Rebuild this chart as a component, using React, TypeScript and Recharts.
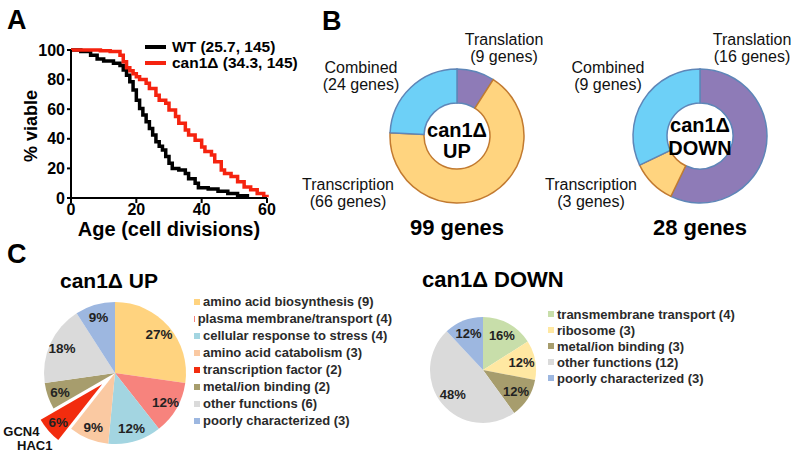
import React from 'react'
import { LineChart, Line, XAxis, YAxis, Legend, PieChart, Pie, Cell } from 'recharts'

const FONT = '"Liberation Sans", Arial, Helvetica, sans-serif'
const RADIAN = Math.PI / 180

// A: replicative lifespan (age in cell divisions, % viable)
const wtAge = [0, 3, 6, 8, 10, 13, 15, 16, 17, 18, 19, 20, 21, 22, 23, 24, 25, 26, 27, 28, 29, 30, 31, 33, 35, 36, 38, 39, 42, 45, 48, 51, 54]
const wtViable = [100, 99, 96.5, 94, 92.5, 91, 89.5, 86.5, 83, 78.5, 73, 66, 60.5, 56, 51.5, 47, 42.5, 38, 35, 32.5, 28, 23.5, 20, 19, 16.5, 13, 10, 7, 6, 4.5, 3, 1.5, 0]
const canAge = [0, 9, 12, 15, 16, 17, 18, 19, 20, 21, 23, 24, 26, 27, 29, 30, 32, 33, 35, 36, 38, 40, 41, 43, 44, 46, 47, 49, 51, 53, 55, 57, 59, 60]
const canViable = [100, 99.5, 99, 96.5, 92, 88, 86, 84, 82, 80, 77.5, 74, 69.5, 66, 64, 59.5, 55, 50.5, 46, 42.5, 39, 34.5, 31.5, 29, 24.5, 19, 16.5, 14.5, 11, 7.5, 5.5, 3, 1, 0.5]
const survivalNames = ['WT (25.7, 145)', 'can1Δ (34.3, 145)']
const survivalColors = ['#000000', '#F5230F']
const ageTicks = [0, 20, 40, 60]
const viableTicks = [0, 20, 40, 60, 80, 100]

// B: regulatory groups
const groupNames = ['Translation', 'Transcription', 'Combined']
const upGroupGenes = [9, 66, 24]
const downGroupGenes = [16, 3, 9]
const groupFill = ['#8E7BB7', '#FFD47F', '#6DD0F7']
const groupStroke = ['#5E86B8', '#C27A30', '#5E86B8']

// C: functional categories
const upCategories = ['amino acid biosynthesis', 'plasma membrane/transport', 'cellular response to stress', 'amino acid catabolism', 'transcription factor', 'metal/ion binding', 'other functions', 'poorly characterized']
const upCounts = [9, 4, 4, 3, 2, 2, 6, 3]
const upColors = ['#FFD37F', '#F7837D', '#A3D5E1', '#FAC9A2', '#F22C0E', '#A79D6D', '#DADADA', '#9DB7E0']
const downCategories = ['transmembrane transport', 'ribosome', 'metal/ion binding', 'other functions', 'poorly characterized']
const downCounts = [4, 3, 3, 12, 3]
const downColors = ['#C8DEAA', '#FFE8A2', '#A79D6D', '#DADADA', '#9DB7E0']
const explodedCategory = 'transcription factor'
const explodedGenes = ['GCN4', 'HAC1']

const wtData = wtAge.map((age, i) => ({ age, viable: wtViable[i] }))
const canData = canAge.map((age, i) => ({ age, viable: canViable[i] }))
const upGroups = groupNames.map((name, i) => ({ name, genes: upGroupGenes[i] }))
const downGroups = groupNames.map((name, i) => ({ name, genes: downGroupGenes[i] }))
const upData = upCategories.map((name, i) => ({ name, genes: upCounts[i] }))
const downData = downCategories.map((name, i) => ({ name, genes: downCounts[i] }))

const Txt = ({ x, y, size, weight = 700, anchor = 'start', color = '#000', children }: any) => (
  <div
    style={{
      position: 'absolute',
      left: x,
      top: y - size / 2,
      fontSize: size,
      fontWeight: weight,
      lineHeight: 1,
      whiteSpace: 'nowrap',
      color,
      transform: anchor === 'middle' ? 'translateX(-50%)' : undefined,
    }}
  >
    {children}
  </div>
)

const SurvivalLegend = () => (
  <div style={{ fontFamily: FONT, fontWeight: 700, fontSize: 15.5 }}>
    {survivalNames.map((name, i) => (
      <div key={name} style={{ display: 'flex', alignItems: 'center', height: 16, lineHeight: '16px', whiteSpace: 'nowrap' }}>
        <span style={{ width: 21, height: 4, background: survivalColors[i], marginRight: 6 }} />
        {name}
      </div>
    ))}
  </div>
)

function SurvivalChart() {
  const tick = { fill: '#000', fontSize: 16, fontWeight: 700, fontFamily: FONT }
  const axis = { stroke: '#000', strokeWidth: 2 }
  return (
    <div style={{ position: 'absolute', left: 0, top: 0 }}>
      <LineChart width={300} height={240} margin={{ top: 50, right: 33, bottom: 2, left: 0 }}>
        <XAxis
          type="number"
          dataKey="age"
          domain={[0, 60]}
          ticks={ageTicks}
          height={40}
          tick={tick}
          tickSize={5}
          tickMargin={1}
          axisLine={axis}
          tickLine={axis}
          label={{ value: 'Age (cell divisions)', position: 'insideBottom', offset: 2, fill: '#000', fontSize: 20, fontWeight: 700, fontFamily: FONT }}
        />
        <YAxis
          type="number"
          domain={[0, 100]}
          ticks={viableTicks}
          width={71}
          tick={tick}
          tickSize={4}
          tickMargin={2}
          axisLine={axis}
          tickLine={axis}
          interval={0}
        />
        <Legend align="center" verticalAlign="middle" layout="vertical" content={<SurvivalLegend />} wrapperStyle={{ left: 145, top: 39, width: 170 }} />
        <Line data={wtData} dataKey="viable" name={survivalNames[0]} type="stepAfter" stroke={survivalColors[0]} strokeWidth={3.5} dot={false} isAnimationActive={false} />
        <Line data={canData} dataKey="viable" name={survivalNames[1]} type="stepAfter" stroke={survivalColors[1]} strokeWidth={3.5} dot={false} isAnimationActive={false} />
      </LineChart>
      <div
        style={{
          position: 'absolute',
          left: 31,
          top: 126,
          fontSize: 18,
          fontWeight: 700,
          whiteSpace: 'nowrap',
          transform: 'translate(-50%, -50%) rotate(-90deg)',
        }}
      >
        % viable
      </div>
    </div>
  )
}

function GroupDonut({ data, cx, lines, lineY, total, labelPos }: any) {
  return (
    <>
      <div style={{ position: 'absolute', left: cx - 120, top: 36 }}>
        <PieChart width={240} height={200} margin={{ top: 0, right: 0, bottom: 0, left: 0 }}>
          <Pie
            data={data}
            dataKey="genes"
            nameKey="name"
            cx={120}
            cy={100}
            innerRadius={33}
            outerRadius={67}
            startAngle={90}
            endAngle={-270}
            isAnimationActive={false}
          >
            {data.map((d: any, i: number) => (
              <Cell key={d.name} fill={groupFill[i]} stroke={groupStroke[i]} strokeWidth={1.5} />
            ))}
          </Pie>
        </PieChart>
      </div>
      {lines.map((l: string, i: number) => (
        <Txt key={l} x={cx} y={lineY[i]} size={20} anchor="middle">{l}</Txt>
      ))}
      {data.map((d: any, i: number) => (
        <div
          key={d.name}
          style={{
            position: 'absolute',
            left: labelPos[i][0],
            top: labelPos[i][1],
            transform: 'translateX(-50%)',
            fontSize: 16,
            lineHeight: '17px',
            textAlign: 'center',
            whiteSpace: 'nowrap',
            color: '#111',
          }}
        >
          {d.name}
          <br />({d.genes} genes)
        </div>
      ))}
      <Txt x={cx} y={228} size={22} anchor="middle">{total} genes</Txt>
    </>
  )
}

const CategoryLegend = ({ names, counts, colors, rowHeight }: any) => (
  <div style={{ fontFamily: FONT, fontWeight: 700, fontSize: 13, color: '#2a2a2a' }}>
    {names.map((n: string, i: number) => (
      <div key={n} style={{ display: 'flex', alignItems: 'center', height: rowHeight, whiteSpace: 'nowrap' }}>
        <span style={{ width: 6, height: 6, background: colors[i], marginLeft: 2, marginRight: 3 }} />
        {n} ({counts[i]})
      </div>
    ))}
  </div>
)

const percentLabel = (factor: number, fontSize: number, show: (i: number) => boolean, extra?: string[]) => (p: any) => {
  if (!show(p.index)) return null
  const r = p.outerRadius * factor
  const x = p.cx + r * Math.cos(-p.midAngle * RADIAN)
  const y = p.cy + r * Math.sin(-p.midAngle * RADIAN)
  const ro = p.outerRadius + 8
  const ox = p.cx + ro * Math.cos(-p.midAngle * RADIAN)
  const oy = p.cy + ro * Math.sin(-p.midAngle * RADIAN)
  return (
    <g>
      <text x={x} y={y} textAnchor="middle" dominantBaseline="central" fontSize={fontSize} fontWeight={700} fill="#222" fontFamily={FONT}>
        {Math.round(p.percent * 100)}%
      </text>
      {extra &&
        extra.map((g, i) => (
          <text key={g} x={ox - 3 + i * 13} y={oy - 4 + i * 14} textAnchor="end" dominantBaseline="central" fontSize={13} fontWeight={700} fill="#111" fontFamily={FONT}>
            {g}
          </text>
        ))}
    </g>
  )
}

function UpCategoryPie() {
  const cx = 115
  const cy = 103
  const exIdx = upCategories.indexOf(explodedCategory)
  const total = upCounts.reduce((a, b) => a + b, 0)
  const before = upCounts.slice(0, exIdx).reduce((a, b) => a + b, 0)
  const mid = (90 - ((before + upCounts[exIdx] / 2) / total) * 360) * RADIAN
  const shift = 17
  return (
    <div style={{ position: 'absolute', left: 0, top: 270 }}>
      <PieChart width={400} height={187} margin={{ top: 0, right: 0, bottom: 0, left: 0 }}>
        <Pie
          data={upData}
          dataKey="genes"
          nameKey="name"
          cx={cx}
          cy={cy}
          outerRadius={71}
          startAngle={90}
          endAngle={-270}
          stroke="none"
          labelLine={false}
          label={percentLabel(0.82, 13.5, (i) => i !== exIdx)}
          isAnimationActive={false}
        >
          {upData.map((d, i) => (
            <Cell key={d.name} fill={i === exIdx ? 'none' : upColors[i]} stroke="none" />
          ))}
        </Pie>
        <Pie
          data={upData}
          dataKey="genes"
          nameKey="name"
          cx={cx + shift * Math.cos(mid)}
          cy={cy - shift * Math.sin(mid)}
          outerRadius={71}
          startAngle={90}
          endAngle={-270}
          stroke="none"
          labelLine={false}
          legendType="none"
          label={percentLabel(0.82, 13.5, (i) => i === exIdx, explodedGenes)}
          isAnimationActive={false}
        >
          {upData.map((d, i) => (
            <Cell key={d.name} fill={i === exIdx ? upColors[i] : 'none'} stroke="none" />
          ))}
        </Pie>
        <Legend
          align="center"
          verticalAlign="middle"
          layout="vertical"
          content={<CategoryLegend names={upCategories} counts={upCounts} colors={upColors} rowHeight={17} />}
          wrapperStyle={{ left: 192, top: 23, width: 200 }}
        />
      </PieChart>
    </div>
  )
}

function DownCategoryPie() {
  return (
    <div style={{ position: 'absolute', left: 400, top: 270 }}>
      <PieChart width={400} height={187} margin={{ top: 0, right: 0, bottom: 0, left: 0 }}>
        <Pie
          data={downData}
          dataKey="genes"
          nameKey="name"
          cx={83}
          cy={100}
          outerRadius={53}
          startAngle={90}
          endAngle={-270}
          stroke="none"
          labelLine={false}
          label={percentLabel(0.74, 13, () => true)}
          isAnimationActive={false}
        >
          {downData.map((d, i) => (
            <Cell key={d.name} fill={downColors[i]} stroke="none" />
          ))}
        </Pie>
        <Legend
          align="center"
          verticalAlign="middle"
          layout="vertical"
          content={<CategoryLegend names={downCategories} counts={downCounts} colors={downColors} rowHeight={16} />}
          wrapperStyle={{ left: 146, top: 36, width: 220 }}
        />
      </PieChart>
    </div>
  )
}

export default function App() {
  return (
    <div
      style={{
        position: 'absolute',
        left: 0,
        top: 0,
        width: 800,
        height: 457,
        background: '#fff',
        fontFamily: FONT,
        color: '#000',
        overflow: 'hidden',
      }}
    >
      <SurvivalChart />
      <GroupDonut data={upGroups} cx={457} lines={['can1Δ', 'UP']} lineY={[130, 151]} total={99}
        labelPos={[[504, 31], [348, 176], [361, 59]]} />
      <GroupDonut data={downGroups} cx={700} lines={['can1Δ', 'DOWN']} lineY={[125, 148]} total={28}
        labelPos={[[752, 31], [591, 176], [608, 59]]} />
      <UpCategoryPie />
      <DownCategoryPie />
      <Txt x={60} y={280} size={21}>can1Δ UP</Txt>
      <Txt x={422} y={280} size={22}>can1Δ DOWN</Txt>
      <Txt x={7} y={20} size={27}>A</Txt>
      <Txt x={322} y={21} size={27}>B</Txt>
      <Txt x={7} y={254} size={27}>C</Txt>
    </div>
  )
}
